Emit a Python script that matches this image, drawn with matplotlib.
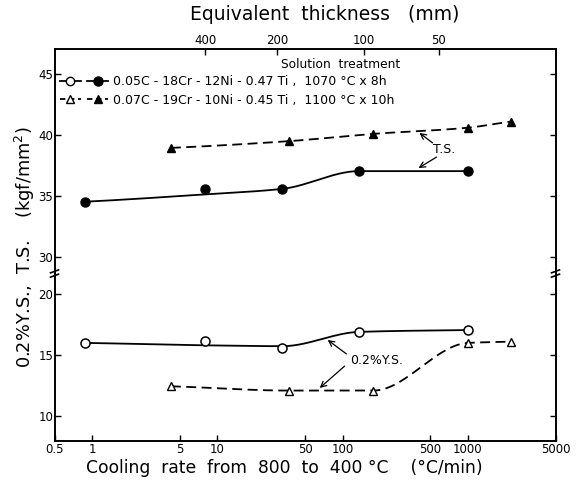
import numpy as np
import matplotlib
matplotlib.use("Agg")
import matplotlib.pyplot as plt
from matplotlib.lines import Line2D
from matplotlib.legend_handler import HandlerTuple

# ---------------- data ----------------
# steel A: 0.05C-18Cr-12Ni-0.47Ti (circles, solid)
rate_a = [0.88, 8.0, 33.0, 135.0, 1000.0]
ts_a = [34.55, 35.55, 35.6, 37.05, 37.05]        # filled circles
ts_a_line = [34.55, 35.15, 35.6, 37.05, 37.05]   # hand-drawn curve
ys_a = [16.0, 16.15, 15.6, 16.9, 17.05]          # open circles
ys_a_line = [16.0, 15.8, 15.73, 16.9, 17.05]

# steel B: 0.07C-19Cr-10Ni-0.45Ti (triangles, dashed)
rate_b = [4.25, 37.0, 176.0, 1000.0, 2200.0]
ts_b = [38.95, 39.5, 40.1, 40.6, 41.1]           # filled triangles
ys_b = [12.45, 12.1, 12.1, 16.0, 16.1]           # open triangles

x_ticks = [0.5, 1, 5, 10, 50, 100, 500, 1000, 5000]
x_ticklabels = ["0.5", "1", "5", "10", "50", "100", "500", "1000", "5000"]
thick_rate = [8.0, 30.0, 148.0, 586.0]
thick_labels = ["400", "200", "100", "50"]
y_upper_ticks = [30, 35, 40, 45]
y_lower_ticks = [10, 15, 20]
BREAK_SHIFT = 7   # upper (T.S.) part of the broken axis is shifted down by this

legend_a = "0.05C - 18Cr - 12Ni - 0.47 Ti ,  1070 °C x 8h"
legend_b = "0.07C - 19Cr - 10Ni - 0.45 Ti ,  1100 °C x 10h"

plt.rcParams['font.family'] = ['DejaVu Sans']


def pchip(x, y, xn):
    x = np.asarray(x, float); y = np.asarray(y, float)
    h = np.diff(x); d = np.diff(y) / h
    n = len(x); m = np.zeros(n)
    for k in range(1, n - 1):
        if d[k - 1] * d[k] > 0:
            w1 = 2 * h[k] + h[k - 1]; w2 = h[k] + 2 * h[k - 1]
            m[k] = (w1 + w2) / (w1 / d[k - 1] + w2 / d[k])
    m[0] = d[0] * 0.8
    m[-1] = d[-1] * 0.8
    idx = np.clip(np.searchsorted(x, xn) - 1, 0, n - 2)
    t = (xn - x[idx]) / h[idx]
    h00 = 2 * t**3 - 3 * t**2 + 1; h10 = t**3 - 2 * t**2 + t
    h01 = -2 * t**3 + 3 * t**2; h11 = t**3 - t**2
    return h00 * y[idx] + h10 * h[idx] * m[idx] + h01 * y[idx + 1] + h11 * h[idx] * m[idx + 1]


def smooth(xr, yv):
    lx = np.log10(xr)
    xn = np.linspace(lx[0], lx[-1], 300)
    return 10 ** xn, pchip(lx, yv, xn)


fig = plt.figure(figsize=(5.85, 4.8), dpi=100)
ax = fig.add_axes([0.0932, 0.0819, 0.8564, 0.8150])
ax.set_xscale('log')
ax.set_xlim(0.5, 5000)
ax.set_ylim(8, 40)

lw = 1.3
dash = (0, (5.5, 3))

# steel A
sx, sy = smooth(rate_a, ts_a_line)
ax.plot(sx, sy - BREAK_SHIFT, color='black', lw=lw)
ax.plot(rate_a, np.array(ts_a) - BREAK_SHIFT, 'o', color='black', ms=6.5, ls='none')
sx, sy = smooth(rate_a, ys_a_line)
ax.plot(sx, sy, color='black', lw=lw)
ax.plot(rate_a, ys_a, 'o', mfc='white', mec='black', mew=1.1, ms=6.5, ls='none')

# steel B
sx, sy = smooth(rate_b, ts_b)
ax.plot(sx, sy - BREAK_SHIFT, color='black', lw=lw, ls=dash)
ax.plot(rate_b, np.array(ts_b) - BREAK_SHIFT, '^', color='black', ms=6, ls='none')
sx, sy = smooth(rate_b, ys_b)
ax.plot(sx, sy, color='black', lw=lw, ls=dash)
ax.plot(rate_b, ys_b, '^', mfc='white', mec='black', mew=1.0, ms=6, ls='none')

# ticks
ax.set_xticks(x_ticks)
ax.set_xticklabels(x_ticklabels)
ax.xaxis.set_minor_locator(matplotlib.ticker.NullLocator())
yt = list(y_lower_ticks) + [v - BREAK_SHIFT for v in y_upper_ticks]
ax.set_yticks(yt)
ax.set_yticklabels([str(v) for v in y_lower_ticks + y_upper_ticks])
ax.tick_params(direction='in', length=4, width=1, labelsize=8.5, pad=2,
               right=True, top=False)
ax.tick_params(axis='y', pad=1)

ax2 = ax.twiny()
ax2.set_xscale('log')
ax2.set_xlim(ax.get_xlim())
ax2.set_xticks(thick_rate)
ax2.set_xticklabels(thick_labels)
ax2.xaxis.set_minor_locator(matplotlib.ticker.NullLocator())
ax2.tick_params(direction='in', length=4, width=1, labelsize=8.5, pad=2)

for a in (ax, ax2):
    for s in a.spines.values():
        s.set_linewidth(1.2)

# axis break marks on both vertical spines
ytr = ax.get_yaxis_transform()
for xb in (0.0, 1.0):
    for yb in (21.5, 21.85):
        ax.plot([xb - 0.008, xb + 0.008], [yb - 0.12, yb + 0.12], color='black',
                lw=1.2, transform=ytr, clip_on=False)

ax.set_xlabel("Cooling  rate  from  800  to  400 °C    (°C/min)", fontsize=12.3, labelpad=0)
ax.xaxis.set_label_coords(0.458, -0.048)
ax2.set_xlabel("Equivalent  thickness   (mm)", fontsize=13.5, labelpad=9)
ax2.xaxis.set_label_coords(0.54, 1.075)
ax.set_ylabel("0.2%Y.S.,  T.S.    (kgf/mm$^2$)", fontsize=12.8, labelpad=0)
ax.yaxis.set_label_coords(-0.035, 0.495)

# legend
ha1 = Line2D([], [], color='black', lw=lw, marker='o', mfc='white', mec='black', ms=6)
ha2 = Line2D([], [], color='black', lw=lw, marker='o', ms=6.5)
hb1 = Line2D([], [], color='black', lw=lw, ls=(0, (3, 2)), marker='^', mfc='white', mec='black', ms=5.5)
hb2 = Line2D([], [], color='black', lw=lw, ls=(0, (3, 2)), marker='^', ms=5.5)
leg = ax.legend([(ha1, ha2), (hb1, hb2)], [legend_a, legend_b],
                handler_map={tuple: HandlerTuple(ndivide=None, pad=0.5)},
                loc='upper left', bbox_to_anchor=(0.0, 0.947), frameon=False,
                fontsize=9, handlelength=3.9, handletextpad=0.4,
                borderaxespad=0.3, borderpad=0.1, labelspacing=0.45)
ax.text(0.452, 0.962, "Solution  treatment", transform=ax.transAxes,
        fontsize=8.8, va='center', ha='left')

# annotations
arrow = dict(arrowstyle='->', lw=0.9, color='black', shrinkA=0, shrinkB=0)
ax.text(650, 31.8, "T.S.", fontsize=9, ha='center', va='center')
ax.annotate("", xy=(410, 33.18), xytext=(521, 32.36), arrowprops=arrow)
ax.annotate("", xy=(403, 30.3), xytext=(561, 31.2), arrowprops=arrow)
ax.text(187, 14.6, "0.2%Y.S.", fontsize=9, ha='center', va='center')
ax.annotate("", xy=(75.8, 16.24), xytext=(107, 15.1), arrowprops=arrow)
ax.annotate("", xy=(65.5, 12.31), xytext=(103.5, 14.1), arrowprops=arrow)

fig.savefig("out.png", dpi=100)
